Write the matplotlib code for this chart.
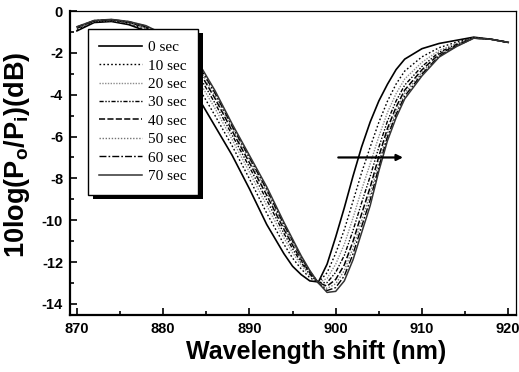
import matplotlib
matplotlib.use("Agg")
import matplotlib.pyplot as plt
from matplotlib.patches import Rectangle
from matplotlib.ticker import MultipleLocator

plt.rcParams['font.family'] = ['Liberation Sans', 'DejaVu Sans']
plt.rcParams['axes.unicode_minus'] = False
plt.rcParams['mathtext.fontset'] = 'custom'
plt.rcParams['mathtext.rm'] = 'Liberation Sans:bold'
plt.rcParams['mathtext.it'] = 'Liberation Sans:bold'
plt.rcParams['mathtext.bf'] = 'Liberation Sans:bold'

wavelength = [870, 872, 874, 876, 878, 880, 882, 884, 886, 888, 890, 892, 894, 895, 896,
              897, 898, 899, 900, 901, 902, 903, 904, 905, 906, 907, 908, 910, 912, 914,
              916, 918, 920]

t0 = [-0.95, -0.55, -0.50, -0.65, -0.95, -1.70, -2.80, -4.10, -5.50, -6.90, -8.50, -10.20,
      -11.60, -12.20, -12.60, -12.90, -12.95, -12.10, -10.80, -9.40, -7.90, -6.50, -5.30,
      -4.30, -3.50, -2.80, -2.30, -1.80, -1.55, -1.40, -1.25, -1.35, -1.50]
t10 = [-0.89, -0.52, -0.47, -0.60, -0.88, -1.52, -2.44, -3.59, -4.99, -6.45, -8.02, -9.66,
       -11.15, -11.81, -12.33, -12.75, -12.97, -12.51, -11.58, -10.45, -9.10, -7.73, -6.50,
       -5.32, -4.31, -3.49, -2.87, -2.19, -1.75, -1.49, -1.27, -1.35, -1.50]
t20 = [-0.85, -0.50, -0.45, -0.58, -0.83, -1.40, -2.20, -3.25, -4.65, -6.15, -7.70, -9.30,
       -10.85, -11.55, -12.15, -12.65, -12.98, -12.78, -12.10, -11.15, -9.90, -8.55, -7.30,
       -6.00, -4.85, -3.95, -3.25, -2.45, -1.88, -1.55, -1.28, -1.35, -1.50]
t30 = [-0.82, -0.49, -0.44, -0.55, -0.79, -1.31, -2.02, -2.99, -4.40, -5.93, -7.46, -9.03,
       -10.63, -11.36, -12.02, -12.58, -12.98, -12.98, -12.49, -11.68, -10.50, -9.17, -7.90,
       -6.51, -5.26, -4.30, -3.54, -2.65, -1.97, -1.60, -1.28, -1.35, -1.50]
t40 = [-0.79, -0.47, -0.42, -0.53, -0.76, -1.23, -1.86, -2.77, -4.17, -5.73, -7.25, -8.80,
       -10.43, -11.19, -11.90, -12.51, -12.99, -13.15, -12.83, -12.13, -11.02, -9.70, -8.42,
       -6.95, -5.61, -4.59, -3.78, -2.81, -2.06, -1.63, -1.29, -1.35, -1.50]
t50 = [-0.78, -0.46, -0.41, -0.52, -0.74, -1.18, -1.77, -2.64, -4.04, -5.61, -7.12, -8.65,
       -10.31, -11.08, -11.83, -12.47, -12.99, -13.26, -13.04, -12.41, -11.34, -10.03, -8.74,
       -7.22, -5.82, -4.78, -3.93, -2.92, -2.11, -1.66, -1.29, -1.35, -1.50]
t60 = [-0.76, -0.46, -0.41, -0.51, -0.72, -1.14, -1.68, -2.52, -3.92, -5.51, -7.01, -8.53,
       -10.21, -10.99, -11.76, -12.44, -13.00, -13.36, -13.22, -12.66, -11.62, -10.31, -9.02,
       -7.46, -6.01, -4.94, -4.07, -3.01, -2.15, -1.68, -1.30, -1.35, -1.50]
t70 = [-0.75, -0.45, -0.40, -0.50, -0.70, -1.10, -1.60, -2.40, -3.80, -5.40, -6.90, -8.40,
       -10.10, -10.90, -11.70, -12.40, -13.00, -13.45, -13.40, -12.90, -11.90, -10.60, -9.30,
       -7.65, -6.20, -5.10, -4.20, -3.10, -2.20, -1.70, -1.30, -1.35, -1.50]

series = [t0, t10, t20, t30, t40, t50, t60, t70]
labels = ['0 sec', '10 sec', '20 sec', '30 sec', '40 sec', '50 sec', '60 sec', '70 sec']
styles = [
    dict(color='black', lw=1.2, ls='-'),
    dict(color='black', lw=1.0, ls=(0, (1.2, 1.6))),
    dict(color='0.55', lw=1.0, ls=(0, (1, 1))),
    dict(color='black', lw=1.0, ls=(0, (3, 1.2, 1, 1.2, 1, 1.2))),
    dict(color='black', lw=1.1, ls=(0, (4, 1.5))),
    dict(color='0.45', lw=1.0, ls=(0, (1, 1.2))),
    dict(color='black', lw=1.0, ls=(0, (5, 1.5, 1.2, 1.5))),
    dict(color='0.2', lw=1.1, ls='-'),
]

fig = plt.figure(figsize=(5.19, 3.72), dpi=100)
ax = fig.add_axes([0.1349, 0.1532, 0.8593, 0.8172])

for y, lab, st in zip(series, labels, styles):
    ax.plot(wavelength, y, label=lab, **st)

ax.annotate('', xy=(907.8, -7.0), xytext=(900.3, -7.0),
            arrowprops=dict(arrowstyle='-|>', color='black', lw=1.6,
                            mutation_scale=9, shrinkA=0, shrinkB=0))

ax.set_xlim(869.2, 920.9)
ax.set_ylim(-14.53, 0)
ax.xaxis.set_major_locator(MultipleLocator(10))
ax.xaxis.set_minor_locator(MultipleLocator(5))
ax.yaxis.set_major_locator(MultipleLocator(2))
ax.yaxis.set_minor_locator(MultipleLocator(1))
ax.tick_params(which='both', direction='in', width=1.2)
ax.tick_params(which='major', length=5, labelsize=10.5, pad=5)
ax.tick_params(which='minor', length=3)
for lbl in ax.get_xticklabels() + ax.get_yticklabels():
    lbl.set_fontweight('bold')

for side in ['left', 'bottom']:
    ax.spines[side].set_linewidth(1.6)
for side in ['top', 'right']:
    ax.spines[side].set_linewidth(0.9)

ax.set_xlabel('Wavelength shift (nm)', fontsize=18, fontweight='bold')
ax.xaxis.set_label_coords(0.552, -0.082)
ax.set_ylabel(r'10log(P$_\mathrm{o}$/P$_\mathrm{i}$)(dB)', fontsize=19.5,
              fontweight='bold')
ax.yaxis.set_label_coords(-0.085, 0.526)

leg = ax.legend(loc='upper left', bbox_to_anchor=(0.040, 0.941), borderaxespad=0,
                prop={'family': 'Liberation Serif', 'size': 11},
                handlelength=2.8, handletextpad=0.4, labelspacing=0.31,
                borderpad=0.75, fancybox=False, framealpha=1, edgecolor='black')
leg.get_frame().set_linewidth(1.0)
leg.set_zorder(6)

fig.canvas.draw()
bb = leg.get_window_extent().transformed(ax.transAxes.inverted())
dx = 5 / (fig.dpi * 5.19 * 0.8593)
dy = 4 / (fig.dpi * 3.72 * 0.8172)
ax.add_patch(Rectangle((bb.x0 + dx, bb.y0 - dy), bb.width, bb.height,
                       transform=ax.transAxes, facecolor='black', edgecolor='none',
                       zorder=5.5))

fig.savefig('out.png', dpi=100)
